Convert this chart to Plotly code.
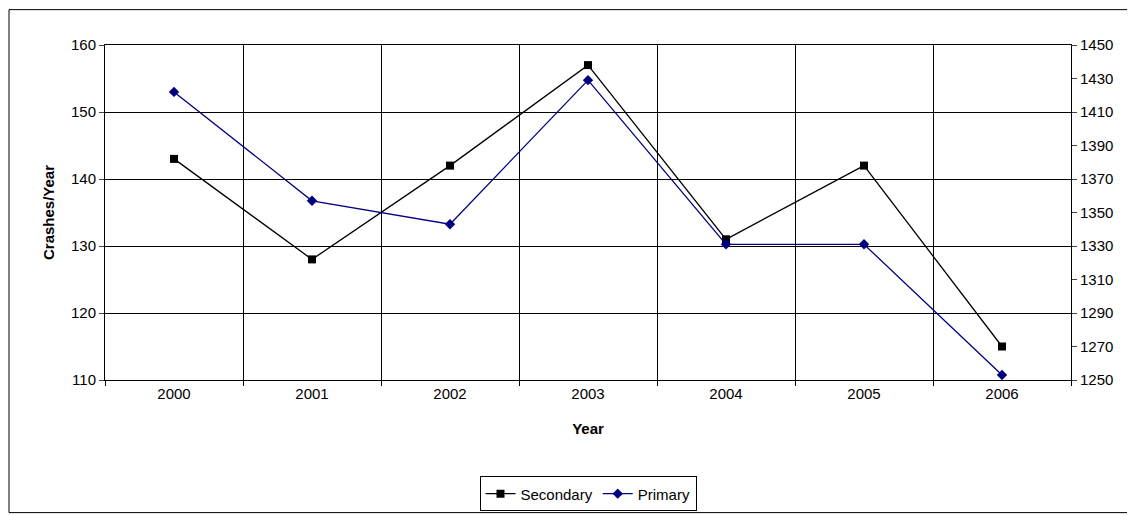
import plotly.graph_objects as go

years = ["2000", "2001", "2002", "2003", "2004", "2005", "2006"]
secondary = [143, 128, 142, 157, 131, 142, 115]
primary = [1422, 1357, 1343, 1429, 1331, 1331, 1253]

W, H = 1135, 515
L, R, T, B = 97, 72, 37, 137
pw, ph = W - L - R, H - T - B
idx = list(range(len(years)))
font = "Liberation Sans, Arial, sans-serif"

fig = go.Figure()
fig.add_trace(go.Scatter(
    x=idx, y=secondary, name="Secondary", mode="lines+markers",
    line=dict(color="black", width=1.3),
    marker=dict(symbol="square", size=8, color="black"),
))
fig.add_trace(go.Scatter(
    x=idx, y=primary, name="Primary", mode="lines+markers", yaxis="y2",
    line=dict(color="#000080", width=1.3),
    marker=dict(symbol="diamond", size=8, color="#000080"),
))

# outer chart border
fig.add_shape(type="rect", xref="paper", yref="paper",
              x0=-(L - 1) / pw, x1=1 + (R - 2) / pw,
              y0=-(B - 2) / ph, y1=1 + (T - 1) / ph,
              line=dict(color="black", width=1))

fig.update_layout(
    width=W, height=H,
    margin=dict(l=L, r=R, t=T, b=B),
    paper_bgcolor="white", plot_bgcolor="white",
    font=dict(family=font, size=15, color="black"),
    showlegend=True,
    legend=dict(orientation="h", x=0.5, xanchor="center", y=-0.34, yanchor="middle",
                bordercolor="black", borderwidth=1, font=dict(size=15)),
    xaxis=dict(
        range=[-0.5, 6.5], tickvals=idx, ticktext=years, showgrid=False,
        ticks="", showline=True, linecolor="black", mirror=True, zeroline=False,
        title=dict(text="<b>Year</b>", font=dict(size=15), standoff=22),
        tickfont=dict(size=15),
        minor=dict(tickvals=[i - 0.5 for i in range(8)], showgrid=True,
                   gridcolor="black", gridwidth=1, ticks="outside", ticklen=5,
                   tickcolor="black"),
    ),
    yaxis=dict(
        range=[110, 160], dtick=10, showgrid=True, gridcolor="black", gridwidth=1,
        showline=True, linecolor="black", ticks="outside", ticklen=5, zeroline=False,
        title=dict(text="<b>Crashes/Year</b>", font=dict(size=15), standoff=12),
        tickfont=dict(size=15),
    ),
    yaxis2=dict(
        range=[1250, 1450], tick0=1250, dtick=20, overlaying="y", side="right",
        showgrid=False, showline=True, linecolor="black", ticks="outside", ticklen=5,
        zeroline=False, tickfont=dict(size=15),
    ),
)

fig.write_html("out.html")
